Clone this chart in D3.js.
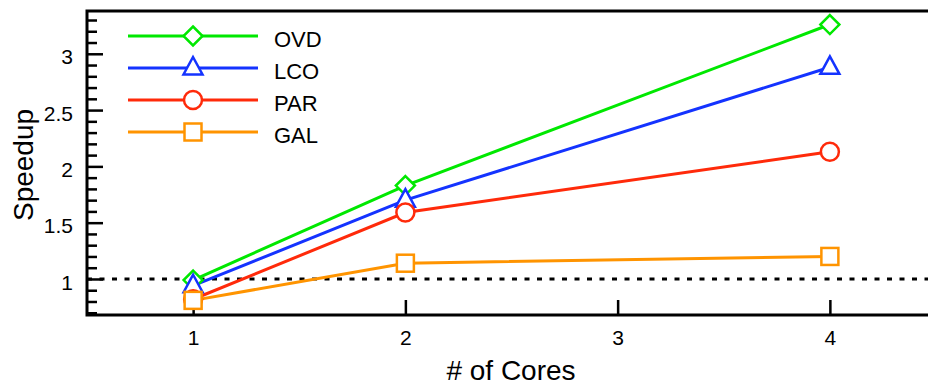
<!DOCTYPE html>
<html>
<head>
<meta charset="utf-8">
<script src="https://cdn.jsdelivr.net/npm/d3@7"></script>
<style>
  body { margin: 0; background: #fff; }
  text { font-family: "Liberation Sans", Arial, sans-serif; fill: #000; }
</style>
</head>
<body>
<div id="chart"></div>
<script>
// data
const cores = [1, 2, 4];
const ovd = [0.99, 1.83, 3.26];
const lco = [0.94, 1.70, 2.88];
const par = [0.82, 1.59, 2.13];
const gal = [0.81, 1.14, 1.20];
const seriesNames = ["OVD", "LCO", "PAR", "GAL"];
const xTicks = [1, 2, 3, 4];
const yTicks = [1, 1.5, 2, 2.5, 3];

const width = 928, height = 385;
const margin = { top: 11, right: -8, bottom: 70, left: 87 };

const svg = d3.select("#chart").append("svg")
  .attr("width", width)
  .attr("height", height);

const x = d3.scaleLinear().domain([0.5, 4.5]).range([margin.left, width - margin.right]);
const y = d3.scaleLinear().domain([0.68, 3.38]).range([height - margin.bottom, margin.top]);

const series = [
  { name: "OVD", values: ovd, color: "#00e800", shape: "diamond" },
  { name: "LCO", values: lco, color: "#1433ff", shape: "triangle" },
  { name: "PAR", values: par, color: "#ff2a0a", shape: "circle" },
  { name: "GAL", values: gal, color: "#ff9400", shape: "square" }
];

// reference line at speedup = 1
svg.append("line")
  .attr("x1", x(0.5)).attr("x2", x(4.5))
  .attr("y1", y(1)).attr("y2", y(1))
  .style("stroke", "#000")
  .style("stroke-width", 3)
  .style("stroke-dasharray", "5,7.5");

// axes: ticks drawn inward
const yAxis = d3.axisLeft(y).tickValues(yTicks).tickSize(-16).tickPadding(14)
  .tickFormat(d3.format("~g"));
const yMinor = d3.axisLeft(y).tickValues(d3.range(0.7, 3.35, 0.1).filter(v => Math.abs(v * 2 - Math.round(v * 2)) > 0.01))
  .tickSize(-10).tickFormat("");
const xAxis = d3.axisBottom(x).tickValues(xTicks).tickSize(-15).tickPadding(15)
  .tickFormat(d3.format("d"));

function styleAxis(g) {
  g.select(".domain").remove();
  g.selectAll(".tick line").style("stroke", "#000").style("stroke-width", 2.5);
  g.selectAll(".tick text").style("font-size", "21px")
    .style("font-family", "'Liberation Sans', Arial, sans-serif");
}

svg.append("g").attr("transform", `translate(${margin.left},0)`).call(yMinor).call(styleAxis);
svg.append("g").attr("transform", `translate(${margin.left},0)`).call(yAxis).call(styleAxis)
  .selectAll(".tick text").attr("dy", "0.48em");
svg.append("g").attr("transform", `translate(0,${height - margin.bottom})`).call(xAxis).call(styleAxis);

// frame: left, top, bottom
svg.append("path")
  .attr("d", `M${width + 10},${margin.top}H${margin.left}V${height - margin.bottom}H${width + 10}`)
  .style("fill", "none")
  .style("stroke", "#000")
  .style("stroke-width", 3);

const line = d3.line().x((d, i) => x(cores[i])).y(d => y(d));

function drawMarker(g, shape, color) {
  let m;
  if (shape === "circle") {
    m = g.append("circle").attr("r", 9);
  } else if (shape === "square") {
    m = g.append("rect").attr("x", -8.5).attr("y", -8.5).attr("width", 17).attr("height", 17);
  } else if (shape === "diamond") {
    m = g.append("path").attr("d", "M0,-9.5L9.5,0L0,9.5L-9.5,0Z");
  } else {
    m = g.append("path").attr("d", "M0,-11L9.5,6.5L-9.5,6.5Z");
  }
  m.style("fill", "#fff").style("stroke", color).style("stroke-width", 2.5);
}

// draw series so that later ones sit on top (GAL last)
series.forEach(s => {
  svg.append("path")
    .datum(s.values)
    .attr("d", line)
    .style("fill", "none")
    .style("stroke", s.color)
    .style("stroke-width", 3);
});
series.forEach(s => {
  s.values.forEach((v, i) => {
    const g = svg.append("g").attr("transform", `translate(${x(cores[i])},${y(v)})`);
    drawMarker(g, s.shape, s.color);
  });
});

// legend
const legend = svg.append("g").attr("transform", "translate(128,36)");
series.forEach((s, i) => {
  const row = legend.append("g").attr("transform", `translate(0,${i * 32})`);
  row.append("line").attr("x1", 0).attr("x2", 130).attr("y1", 0).attr("y2", 0)
    .style("stroke", s.color).style("stroke-width", 3);
  const mg = row.append("g").attr("transform", "translate(65,0)");
  drawMarker(mg, s.shape, s.color);
  row.append("text").attr("x", 146).attr("y", 10.5).style("font-size", "22px").text(seriesNames[i]);
});

// axis titles
svg.append("text")
  .attr("x", 511).attr("y", 380)
  .attr("text-anchor", "middle")
  .style("font-size", "28px")
  .text("# of Cores");

svg.append("text")
  .attr("transform", `translate(33,165) rotate(-90)`)
  .attr("text-anchor", "middle")
  .style("font-size", "28px")
  .text("Speedup");
</script>
</body>
</html>
